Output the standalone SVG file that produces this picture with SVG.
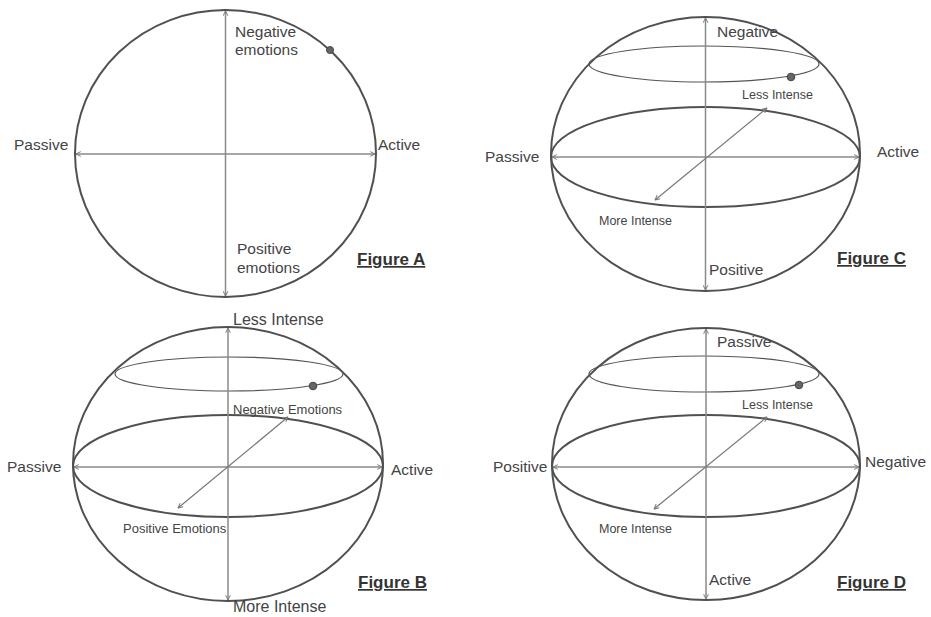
<svg xmlns="http://www.w3.org/2000/svg" width="931" height="617" viewBox="0 0 931 617">
<defs>
<marker id="ah" viewBox="0 0 10 10" refX="9" refY="5" markerWidth="6" markerHeight="6" markerUnits="userSpaceOnUse" orient="auto-start-reverse">
<path d="M1,1 L9,5 L1,9" fill="none" stroke="#777" stroke-width="1.6"/>
</marker>
</defs>
<style>
.sph{fill:none;stroke:#505050;stroke-width:2}
.eq{fill:none;stroke:#505050;stroke-width:2}
.lat{fill:none;stroke:#555;stroke-width:1.2}
.ax{fill:none;stroke:#8a8a8a;stroke-width:1.5;marker-start:url(#ah);marker-end:url(#ah)}
.dg{fill:none;stroke:#777;stroke-width:1.2;marker-start:url(#ah);marker-end:url(#ah)}
.dot{fill:#666;stroke:#444;stroke-width:1}
text{font-family:"Liberation Sans",Arial,sans-serif;fill:#444}
.lb{font-size:15.5px}
.sm{font-size:12.5px}
.sb{font-size:13px}
.mb{font-size:16px}
.fig{font-size:17px;font-weight:bold;fill:#333;text-decoration:underline}
</style>
<rect width="931" height="617" fill="#fff"/>

<g id="figureA">
<ellipse class="sph" cx="225.5" cy="153.5" rx="150.5" ry="143.5"/>
<g id="connectorsA">
<line class="ax" x1="225.5" y1="11" x2="225.5" y2="296"/>
<line class="ax" x1="76" y1="154" x2="375" y2="154"/>
</g>
<circle class="dot" cx="330" cy="50" r="3.5"/>
<text class="lb" x="235" y="37">Negative</text>
<text class="lb" x="235" y="55">emotions</text>
<text class="lb" x="14" y="150">Passive</text>
<text class="lb" x="378" y="150">Active</text>
<text class="lb" x="237" y="254">Positive</text>
<text class="lb" x="237" y="273">emotions</text>
<text class="fig" x="357" y="265">Figure A</text>
</g>

<g id="figureC">
<ellipse class="sph" cx="705.5" cy="154" rx="154.5" ry="137"/>
<ellipse class="eq" cx="705.5" cy="157" rx="154.5" ry="50"/>
<ellipse class="lat" cx="704" cy="64" rx="115" ry="18"/>
<g id="connectorsC">
<line class="ax" x1="705.5" y1="18" x2="705.5" y2="290"/>
<line class="ax" x1="552" y1="157" x2="859" y2="157"/>
<line class="dg" x1="655" y1="200" x2="767" y2="108"/>
</g>
<circle class="dot" cx="791" cy="77" r="3.8"/>
<text class="lb" x="717" y="37">Negative</text>
<text class="sm" x="742" y="99">Less Intense</text>
<text class="lb" x="485" y="162">Passive</text>
<text class="lb" x="877" y="157">Active</text>
<text class="sm" x="599" y="225">More Intense</text>
<text class="lb" x="709" y="275">Positive</text>
<text class="fig" x="837" y="264">Figure C</text>
</g>

<g id="figureB">
<ellipse class="sph" cx="228" cy="464" rx="155" ry="137"/>
<ellipse class="eq" cx="228" cy="466" rx="155" ry="51"/>
<ellipse class="lat" cx="229" cy="374" rx="114" ry="17"/>
<g id="connectorsB">
<line class="ax" x1="228" y1="328" x2="228" y2="600"/>
<line class="ax" x1="74" y1="467" x2="382" y2="467"/>
<line class="dg" x1="178" y1="508" x2="288" y2="417"/>
</g>
<circle class="dot" cx="313" cy="386" r="3.8"/>
<text class="mb" x="233" y="325">Less Intense</text>
<text class="sb" x="233" y="414">Negative Emotions</text>
<text class="lb" x="7" y="472">Passive</text>
<text class="lb" x="391" y="475">Active</text>
<text class="sb" x="123" y="533">Positive Emotions</text>
<text class="mb" x="233" y="612">More Intense</text>
<text class="fig" x="358" y="588">Figure B</text>
</g>

<g id="figureD">
<ellipse class="sph" cx="706" cy="464" rx="154" ry="136"/>
<ellipse class="eq" cx="706" cy="466" rx="154" ry="51"/>
<ellipse class="lat" cx="704" cy="374" rx="115" ry="18"/>
<g id="connectorsD">
<line class="ax" x1="706" y1="329" x2="706" y2="599"/>
<line class="ax" x1="553" y1="467" x2="859" y2="467"/>
<line class="dg" x1="654" y1="509" x2="767" y2="417"/>
</g>
<circle class="dot" cx="799" cy="385" r="3.8"/>
<text class="lb" x="717" y="347">Passive</text>
<text class="sm" x="742" y="409">Less Intense</text>
<text class="lb" x="493" y="472">Positive</text>
<text class="lb" x="865" y="467">Negative</text>
<text class="sm" x="599" y="533">More Intense</text>
<text class="lb" x="709" y="585">Active</text>
<text class="fig" x="837" y="588">Figure D</text>
</g>
</svg>
